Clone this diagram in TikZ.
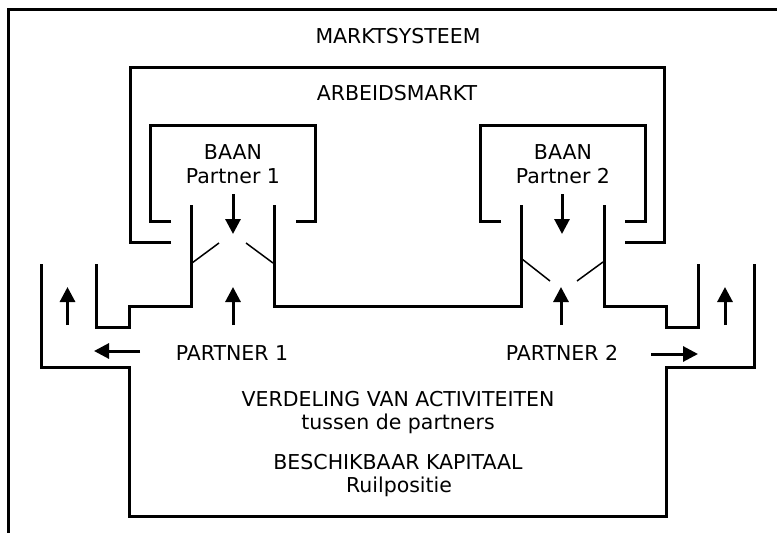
\documentclass[tikz,border=0pt]{standalone}
\usepackage{fontspec}
\setmainfont{DejaVu Sans}
\usetikzlibrary{arrows.meta}
\begin{document}
\begin{tikzpicture}[x=1pt,y=-1pt,
  wall/.style={line width=3pt,line cap=butt,line join=miter},
  flap/.style={line width=1.5pt},
  flow/.style={line width=3pt,-{Triangle[length=15pt 0 0,width=15pt 0 0]}},
  lbl/.style={font=\fontsize{20.5pt}{24pt}\selectfont,anchor=base,inner sep=0pt}]
\useasboundingbox (0,0) rectangle (777,533);
% outer frame (market system)
\draw[wall] (8.5,540) -- (8.5,9.5) -- (785,9.5);
% labour market box
\draw[wall] (171,242) -- (130,242) -- (130,67) -- (664.5,67) -- (664.5,242) -- (625,242);
% job boxes
\draw[wall] (171,221.5) -- (150.5,221.5) -- (150.5,125) -- (315,125) -- (315,221.5) -- (296,221.5);
\draw[wall] (501,221.5) -- (480,221.5) -- (480,125) -- (645,125) -- (645,221.5) -- (624.5,221.5);
% channels and household area
\draw[wall] (96.5,264) -- (96.5,327.5) -- (129,327.5) -- (129,306) -- (191.5,306) -- (191.5,205);
\draw[wall] (274,205) -- (274,306) -- (521.5,306) -- (521.5,205);
\draw[wall] (604,205) -- (604,306) -- (666,306) -- (666,327.5) -- (698.5,327.5) -- (698.5,264);
\draw[wall] (41.5,264) -- (41.5,367) -- (129,367) -- (129,516) -- (666,516) -- (666,367) -- (754,367) -- (754,264);
% flaps
\draw[flap] (192,263) -- (219,243);
\draw[flap] (246,243) -- (273,263);
\draw[flap] (522,259) -- (550,281);
\draw[flap] (577,281) -- (603,262);
% texts
\node[lbl] (ms) at (398,43) {MARKTSYSTEEM};
\node[lbl] (am) at (397,100) {ARBEIDSMARKT};
\node[lbl] (b1) at (233,159) {BAAN};
\node[lbl] (b1p) at (233,183) {Partner 1};
\node[lbl] (b2) at (563,159) {BAAN};
\node[lbl] (b2p) at (563,183) {Partner 2};
\node[lbl] (p1) at (232,360) {PARTNER 1};
\node[lbl] (p2) at (562,360) {PARTNER 2};
\node[lbl] (va) at (398,406) {VERDELING VAN ACTIVITEITEN};
\node[lbl] (vb) at (398,429) {tussen de partners};
\node[lbl] (ka) at (398,469) {BESCHIKBAAR KAPITAAL};
\node[lbl] (kb) at (399,492) {Ruilpositie};
% arrow end points
\coordinate (d1s) at (233,194); \coordinate (d1e) at (233,234);
\coordinate (d2s) at (562,194); \coordinate (d2e) at (562,234);
\coordinate (u1s) at (233,325); \coordinate (u1e) at (233,287);
\coordinate (u2s) at (561,325); \coordinate (u2e) at (561,287);
\coordinate (l1s) at (67.5,325); \coordinate (l1e) at (67.5,287);
\coordinate (r1s) at (725,325); \coordinate (r1e) at (725,287);
\coordinate (hls) at (140,351); \coordinate (hle) at (94,351);
\coordinate (hrs) at (651,354); \coordinate (hre) at (698,354);
\draw[flow] (d1s) -- (d1e);
\draw[flow] (d2s) -- (d2e);
\draw[flow] (u1s) -- (u1e);
\draw[flow] (u2s) -- (u2e);
\draw[flow] (l1s) -- (l1e);
\draw[flow] (r1s) -- (r1e);
\draw[flow] (hls) -- (hle);
\draw[flow] (hrs) -- (hre);
\end{tikzpicture}
\end{document}
